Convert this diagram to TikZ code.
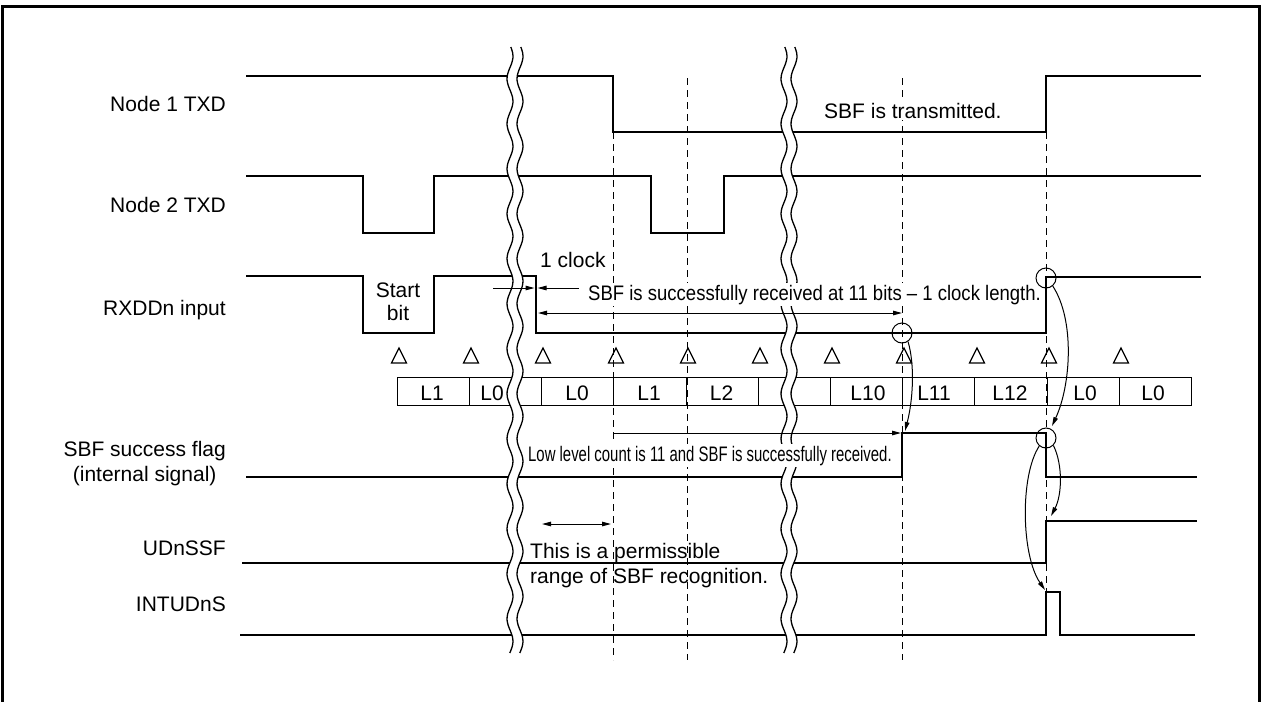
\documentclass[tikz,border=0pt]{standalone}
\usepackage{fontspec}
\usepackage{graphicx}
\setmainfont{Liberation Sans}
\usetikzlibrary{arrows.meta,calc}
\begin{document}
\begin{tikzpicture}[x=1pt,y=-1pt,
  sig/.style={line width=2.9pt, line join=miter},
  thinln/.style={line width=1pt},
  dsh/.style={line width=1pt, dash pattern=on 7pt off 5pt},
  wav/.style={line width=1.3pt},
  arr/.style={line width=1pt, -{Triangle[length=9pt,width=4.5pt]}},
  darr/.style={line width=1pt, {Triangle[length=9pt,width=4.5pt]}-{Triangle[length=9pt,width=4.5pt]}},
  lbl/.style={font=\fontsize{21}{25}\selectfont, inner sep=0pt},
  wlbl/.style={lbl, fill=white, inner sep=2pt},
  ring/.style={circle, draw, line width=1pt, minimum size=20pt, inner sep=0pt},
  tri/.style={line width=1.2pt, line join=miter}
]
\useasboundingbox (0,0) rectangle (1262,702);
% frame
\draw[line width=3pt] (2,702) -- (2,6) -- (1259,6) -- (1259,702);

% dashed guides
\draw[dsh] (613,132) -- (613,660);
\draw[dsh] (687,78) -- (687,660);
\draw[dsh] (902,78) -- (902,660);
\draw[dsh] (1046,132) -- (1046,592);

% counter boxes
\draw[thinln] (397,377) rectangle (1191,405);
\foreach \x in {469,541,613,686,758,830,902,974,1047,1119}
  \draw[thinln] (\x,377) -- (\x,405);

% signals
\draw[sig] (246,76) -- (613,76) -- (613,132) -- (1046,132) -- (1046,76) -- (1201,76);
\draw[sig] (246,176) -- (363,176) -- (363,233) -- (434,233) -- (434,176) -- (651,176) -- (651,233) -- (724,233) -- (724,176) -- (1201,176);
\draw[sig] (246,276) -- (363,276) -- (363,333) -- (434,333) -- (434,276) -- (536,276) -- (536,333) -- (1046,333) -- (1046,277) -- (1201,277);
\draw[sig] (246,477) -- (902,477) -- (902,433) -- (1046,433) -- (1046,477) -- (1197,477);
\draw[sig] (242,563) -- (1046,563) -- (1046,521) -- (1197,521);
\draw[sig] (240,635) -- (1046,635) -- (1046,592) -- (1060,592) -- (1060,635) -- (1195,635);

% breaks
\foreach \cx in {515,789} {
  \fill[white] plot[variable=\t,domain=47:653,samples=110,smooth] ({\cx-5+3*sin(8*\t)},\t)
    -- plot[variable=\t,domain=653:47,samples=110,smooth] ({\cx+5+3*sin(8*\t)},\t) -- cycle;
  \draw[wav] plot[variable=\t,domain=47:653,samples=110,smooth] ({\cx-5+3*sin(8*\t)},\t);
  \draw[wav] plot[variable=\t,domain=47:653,samples=110,smooth] ({\cx+5+3*sin(8*\t)},\t);
}

% left labels
\node[lbl, anchor=base east] (n1) at (226,111) {Node 1 TXD};
\node[lbl, anchor=base east] (n2) at (226,212) {Node 2 TXD};
\node[lbl, anchor=base east] (rxd) at (226,315) {RXDDn input};
\node[lbl, anchor=base east] (sbf1) at (226,456) {SBF success flag};
\node[lbl, anchor=base] (sbf2) at ($(sbf1.base)+(0,25)$) {(internal signal)};
\node[lbl, anchor=base east] (ssf) at (226,555) {UDnSSF};
\node[lbl, anchor=base east] (ints) at (226,611) {INTUDnS};

% annotations
\node[wlbl, anchor=base west] (tx) at (822,118) {SBF is transmitted.};
\node[wlbl, anchor=base west] (rx) at (586,300) {\scalebox{0.882}[1]{SBF is successfully received at 11 bits – 1 clock length.}};
\node[wlbl, anchor=base west] (low) at (526,461) {\scalebox{0.71}[1]{Low level count is 11 and SBF is successfully received.}};
\node[lbl, anchor=base] (st) at (398,297) {Start};
\node[lbl, anchor=base] (bt) at (398,320) {bit};
\node[lbl, anchor=base west] (clk) at (540,267) {1 clock};
\node[lbl, anchor=base west] (perm1) at (530,558) {This is a permissible};
\node[lbl, anchor=base west] (perm2) at (530,583) {range of SBF recognition.};

% box labels
\node[lbl, anchor=base] (b1) at (432,400) {L1};
\node[lbl, anchor=base] (b2) at (492,400) {L0};
\node[lbl, anchor=base] (b3) at (577,400) {L0};
\node[lbl, anchor=base] (b4) at (649,400) {L1};
\node[lbl, anchor=base] (b5) at (721.5,400) {L2};
\node[lbl, anchor=base] (b6) at (868,400) {L10};
\node[lbl, anchor=base] (b7) at (934,400) {L11};
\node[lbl, anchor=base] (b8) at (1010,400) {L12};
\node[lbl, anchor=base] (b9) at (1085,400) {L0};
\node[lbl, anchor=base] (b10) at (1153,400) {L0};

% sampling triangles
\foreach \x in {399,471,543,616,688,760,832,904,977,1049,1121}
  \draw[tri] (\x-7.5,363) -- (\x,348) -- (\x+7.5,363) -- cycle;

% arrows
\coordinate (clkL) at (493,288);
\coordinate (clkE1) at (534.5,288);
\coordinate (clkR) at (579,288);
\coordinate (clkE2) at (537.5,288);
\draw[arr] (clkL) -- (clkE1);
\draw[arr] (clkR) -- (clkE2);
\coordinate (lenA) at (538,313);
\coordinate (lenB) at (902,313);
\draw[darr] (lenA) -- (lenB);
\coordinate (cntA) at (613,433);
\coordinate (cntB) at (901,433);
\draw[arr] (cntA) -- (cntB);
\coordinate (pA) at (542,524);
\coordinate (pB) at (611,524);
\draw[darr] (pA) -- (pB);

% rings and causal curves
\node[ring] (c1) at (902,333) {};
\node[ring] (c2) at (1046,278) {};
\node[ring] (c3) at (1046,438) {};
\coordinate (t1) at (905,431);
\coordinate (t2) at (1052,426);
\coordinate (t3) at (1051,516);
\coordinate (t4) at (1045,590);
\draw[arr] (c1.-55) .. controls (915,365) and (913,400) .. (t1);
\draw[arr] (c2.-50) .. controls (1075,320) and (1071,385) .. (t2);
\draw[arr] (c3.-45) .. controls (1063,465) and (1062,495) .. (t3);
\draw[arr] (c3.-130) .. controls (1020,475) and (1021,555) .. (t4);
\end{tikzpicture}
\end{document}
